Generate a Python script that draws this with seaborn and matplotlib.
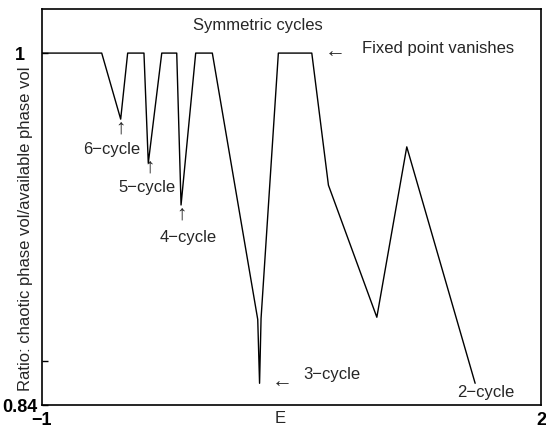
import matplotlib
matplotlib.use("Agg")
import matplotlib.pyplot as plt
import seaborn as sns
import pandas as pd

# Energy values and chaotic phase-volume ratio
energy = [-1.0, -0.641, -0.527, -0.485, -0.387, -0.361, -0.280, -0.190, -0.164,
          -0.076, 0.024, 0.297, 0.308, 0.317, 0.421, 0.622, 0.722, 1.013, 1.193, 1.604]
ratio = [1.0, 1.0, 0.970, 1.0, 1.0, 0.950, 1.0, 1.0, 0.931,
         1.0, 1.0, 0.879, 0.850, 0.8795, 1.0, 1.0, 0.940, 0.880, 0.9574, 0.850]

y_ticks = [0.84, 0.86, 1.0]
y_tick_labels = ["0.84", "", "1"]
x_ticks = [-1, 2]
x_tick_labels = ["\u22121", "2"]

sns.set_style("ticks")
plt.rcParams["font.family"] = ["Liberation Sans", "DejaVu Sans"]

df = pd.DataFrame({"E": energy, "ratio": ratio})

fig = plt.figure(figsize=(5.46, 4.36), dpi=100)
ax = fig.add_axes([42 / 546, 1 - 405.3 / 436, (541 - 42) / 546, (405.3 - 9.5) / 436])

sns.lineplot(data=df, x="E", y="ratio", ax=ax, color="black", linewidth=1.0,
             sort=False, estimator=None)

ax.set_xlim(-1, 2)
ax.set_ylim(0.84, 1.0198)
ax.set_xticks(x_ticks)
ax.set_xticklabels(x_tick_labels, fontsize=13, fontweight="bold")
ax.set_yticks(y_ticks)
ax.set_yticklabels(y_tick_labels, fontsize=13, fontweight="bold", ha="center")
ax.tick_params(direction="in", length=4, width=1, colors="black")
ax.tick_params(axis="y", pad=16)
ax.tick_params(axis="x", length=0, pad=5)

for s in ax.spines.values():
    s.set_visible(True)
    s.set_color("black")
    s.set_linewidth(1.2)

ax.set_xlabel("E", fontsize=12)
ax.set_ylabel("Ratio: chaotic phase vol/available phase vol", fontsize=12)
ax.xaxis.set_label_coords((280 - 42) / 499, -(418 - 405.3) / 395.8)
ax.xaxis.label.set_va("center")
ax.yaxis.set_label_coords(-(42 - 26) / 499, (405.3 - 229) / 395.8)
ax.yaxis.label.set_va("center")

fs = 12
afs = 15
ax.text(0.299, 1.0127, "Symmetric cycles", ha="center", va="center", fontsize=fs)
ax.text(0.762, 1.0005, "\u2190", ha="center", va="center", fontsize=afs)
ax.text(0.922, 1.0023, "Fixed point vanishes", ha="left", va="center", fontsize=fs)

ax.text(-0.531, 0.966, "\u2191", ha="center", va="center", fontsize=afs)
ax.text(-0.579, 0.956, "6\u2212cycle", ha="center", va="center", fontsize=fs)

ax.text(-0.351, 0.948, "\u2191", ha="center", va="center", fontsize=afs)
ax.text(-0.369, 0.939, "5\u2212cycle", ha="center", va="center", fontsize=fs)

ax.text(-0.164, 0.927, "\u2191", ha="center", va="center", fontsize=afs)
ax.text(-0.122, 0.916, "4\u2212cycle", ha="center", va="center", fontsize=fs)

ax.text(0.443, 0.851, "\u2190", ha="center", va="center", fontsize=afs)
ax.text(0.569, 0.854, "3\u2212cycle", ha="left", va="center", fontsize=fs)

ax.text(1.670, 0.8456, "2\u2212cycle", ha="center", va="center", fontsize=fs)

fig.savefig("out.png", dpi=100)
